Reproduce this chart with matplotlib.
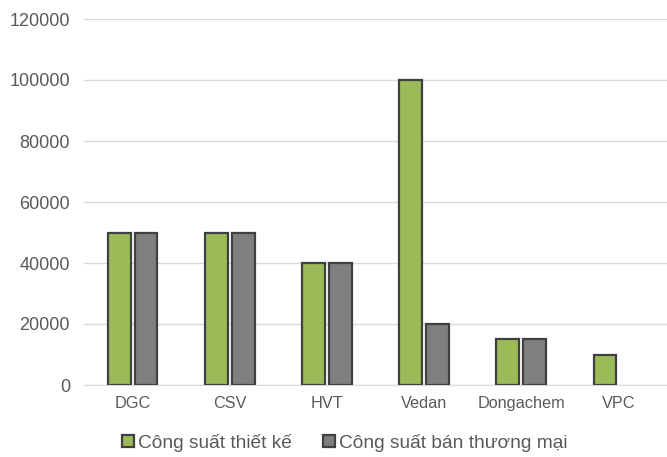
import matplotlib
matplotlib.use("Agg")
import matplotlib.pyplot as plt
import numpy as np

categories = ["DGC", "CSV", "HVT", "Vedan", "Dongachem", "VPC"]
design_capacity = [50000, 50000, 40000, 100000, 15000, 10000]
commercial_capacity = [50000, 50000, 40000, 20000, 15000, 0]
yticks = [0, 20000, 40000, 60000, 80000, 100000, 120000]

plt.rcParams['font.family'] = ['Liberation Sans', 'DejaVu Sans']

fig = plt.figure(figsize=(6.67, 4.57), dpi=100)
ax = fig.add_axes([84/667, 1-385/457, 583/667, (385-19)/457])

x = np.arange(len(categories))
w = 0.235
gap = 0.02
b1 = ax.bar(x - w/2 - gap, design_capacity, w, color="#9BBB59", edgecolor="#404040", linewidth=1.6,
            label="Công suất thiết kế", zorder=3)
b2 = ax.bar(x + w/2 + gap, commercial_capacity, w, color="#7F7F80", edgecolor="#404040", linewidth=1.6,
            label="Công suất bán thương mại", zorder=3)
for bars, vals in ((b1, design_capacity), (b2, commercial_capacity)):
    for r, v in zip(bars, vals):
        if v == 0:
            r.set_visible(False)

ax.set_xlim(-0.5, len(categories) - 0.5)
ax.set_ylim(0, 120000)
ax.set_yticks(yticks)
ax.set_yticklabels([str(v) for v in yticks])
ax.set_xticks(x)
ax.set_xticklabels(categories)
ax.yaxis.grid(True, color="#D9D9D9", linewidth=1.0, zorder=0)
ax.set_axisbelow(True)
for s in ["top", "right", "left"]:
    ax.spines[s].set_visible(False)
ax.spines["bottom"].set_color("#D9D9D9")
ax.tick_params(axis="both", length=0, labelcolor="#595959")
ax.tick_params(axis="y", pad=10, labelsize=13)
ax.tick_params(axis="x", pad=8, labelsize=11.7)

fig.legend(loc="center", bbox_to_anchor=(345/667, 1-443/457), ncol=2, frameon=False,
           fontsize=13.8, labelcolor="#595959", handlelength=0.6, handleheight=0.6,
           handletextpad=0.25, columnspacing=1.6)

fig.savefig("out.png", dpi=100)
